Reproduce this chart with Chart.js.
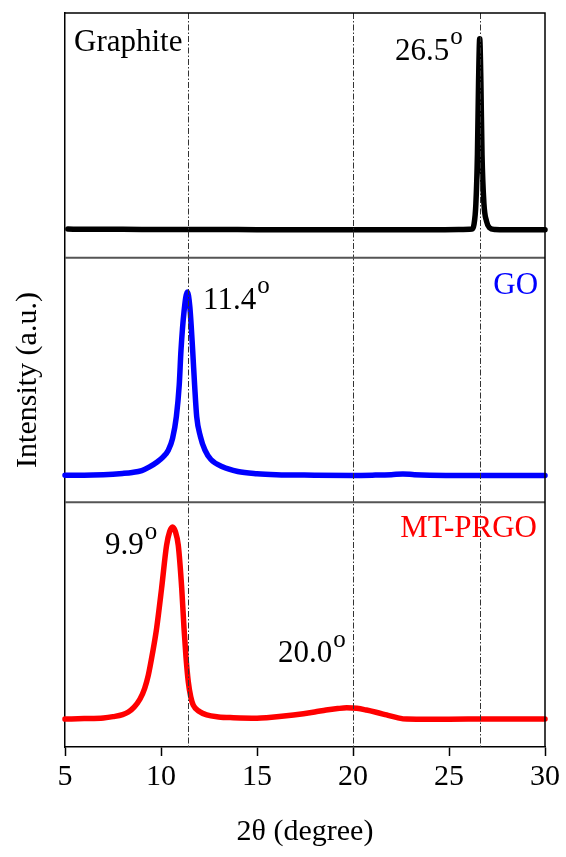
<!DOCTYPE html>
<html><head><meta charset="utf-8">
<script src="https://cdn.jsdelivr.net/npm/chart.js@4.4.1/dist/chart.umd.min.js"></script>
<style>html,body{margin:0;padding:0;background:#fff;}</style>
</head><body>
<canvas id="c" width="566" height="857"></canvas>
<script>
// ---- data ----
const xTicks = [5, 10, 15, 20, 25, 30];
const refLines = [11.4, 20.0, 26.6];

const graphiteX = [5.15, 6, 8, 10, 12, 14, 16, 18, 20, 22, 24, 25.5, 26.2, 26.3, 26.4, 26.48, 26.54, 26.6, 26.66, 26.72, 26.82, 26.95, 27.1, 27.4, 28, 30];
const graphiteY = [11.7, 11.6, 11.6, 11.5, 11.5, 11.5, 11.4, 11.4, 11.4, 11.4, 11.4, 11.5, 11.7, 13.5, 22, 42, 72, 89.5, 72, 42, 22, 15, 12.3, 11.5, 11.4, 11.4];

const goX = [5.0, 6, 7, 8, 8.5, 9, 9.4, 9.8, 10.1, 10.38, 10.6, 10.8, 10.95, 11.04, 11.2, 11.37, 11.5, 11.65, 11.75, 11.86, 12.05, 12.29, 12.6, 13.2, 14, 15, 16, 18, 20, 21, 22, 22.6, 23.2, 24, 26, 28, 30];
const goY = [11.1, 11.1, 11.3, 11.8, 12.2, 13.0, 14.5, 16.5, 18.5, 21.3, 26, 35, 48, 62, 78, 86, 80, 62, 48, 35, 27, 21.3, 17.5, 14.5, 12.6, 11.7, 11.3, 11.1, 11.0, 11.1, 11.3, 11.6, 11.3, 11.1, 11.0, 11.0, 11.0];

const prgoX = [5.0, 6, 7, 7.5, 8.0, 8.3, 8.6, 8.9, 9.15, 9.34, 9.55, 9.77, 10.03, 10.29, 10.45, 10.6, 10.75, 10.9, 11.08, 11.2, 11.3, 11.42, 11.55, 11.68, 12.0, 12.38, 13.0, 13.77, 15.0, 15.5, 16.9, 18.0, 18.6, 19.2, 19.67, 20.2, 20.7, 21.2, 21.75, 22.3, 22.8, 24, 26, 28, 30];
const prgoY = [11.4, 11.6, 11.9, 12.4, 13.2, 14.3, 16.3, 19.5, 24, 29.4, 38, 48.4, 64.8, 82.4, 88, 89.9, 88, 82.4, 64.8, 48.4, 37, 26.7, 20.5, 17.1, 14.5, 13.1, 12.3, 12.0, 11.8, 12.0, 13.1, 14.3, 15.1, 15.7, 16.0, 15.8, 15.1, 14.2, 13.1, 12.0, 11.4, 11.3, 11.4, 11.4, 11.4];

const seriesNames = ['Graphite', 'GO', 'MT-PRGO'];
const seriesColors = ['#000000', '#0000ff', '#ff0000'];

// text labels anchored in data coordinates of each panel
const labels = [
  {axis: 'yG',  text: 'Graphite', sup: '',  x: 5.47,  y: 84.5, align: 'left',  color: '#000'},
  {axis: 'yG',  text: '26.5',     sup: 'o', x: 22.19, y: 80.8, align: 'left',  color: '#000'},
  {axis: 'yGO', text: '11.4',     sup: 'o', x: 12.19, y: 79.1, align: 'left',  color: '#000'},
  {axis: 'yGO', text: 'GO',       sup: '',  x: 29.64, y: 85.2, align: 'right', color: '#0000ff'},
  {axis: 'yM',  text: '9.9',      sup: 'o', x: 7.08,  y: 78.8, align: 'left',  color: '#000'},
  {axis: 'yM',  text: '20.0',     sup: 'o', x: 16.09, y: 34.7, align: 'left',  color: '#000'},
  {axis: 'yM',  text: 'MT-PRGO',  sup: '',  x: 29.58, y: 85.7, align: 'right', color: '#ff0000'}
];

const FONT = '"Liberation Serif", "Times New Roman", serif';
const pts = (xs, ys) => xs.map((x, i) => ({x: x, y: ys[i]}));

const framePlugin = {
  id: 'frame',
  afterDatasetsDraw(chart) {
    const ctx = chart.ctx, a = chart.chartArea, sx = chart.scales.x;
    ctx.save();
    // reference dash-dot lines
    ctx.strokeStyle = '#333';
    ctx.lineWidth = 1;
    ctx.setLineDash([6, 2, 1.5, 2]);
    refLines.forEach(v => {
      const px = Math.round(sx.getPixelForValue(v)) + 0.5;
      ctx.beginPath(); ctx.moveTo(px, a.top); ctx.lineTo(px, a.bottom); ctx.stroke();
    });
    ctx.setLineDash([]);
    // panel separators (top edge of every panel below the first)
    ctx.strokeStyle = '#555';
    ctx.lineWidth = 2;
    ['yG', 'yGO', 'yM'].forEach(id => {
      const y = chart.scales[id].top;
      if (y > a.top + 2) { ctx.beginPath(); ctx.moveTo(a.left, y); ctx.lineTo(a.right, y); ctx.stroke(); }
    });
    // outer frame
    ctx.strokeStyle = '#000';
    ctx.lineWidth = 1.5;
    ctx.beginPath();
    ctx.moveTo(a.left, a.top); ctx.lineTo(a.right, a.top); ctx.lineTo(a.right, a.bottom);
    ctx.stroke();
    // labels
    labels.forEach(l => {
      const sy = chart.scales[l.axis];
      const px = sx.getPixelForValue(l.x), py = sy.getPixelForValue(l.y);
      ctx.fillStyle = l.color;
      ctx.font = '31px ' + FONT;
      ctx.textBaseline = 'alphabetic';
      ctx.textAlign = l.align;
      ctx.fillText(l.text, px, py);
      if (l.sup) {
        const w = ctx.measureText(l.text).width;
        ctx.font = '25px ' + FONT;
        ctx.textAlign = 'left';
        ctx.fillText(l.sup, px + w + 1, py - 15.5);
      }
    });
    ctx.restore();
  }
};

const yAxis = (extra) => Object.assign({
  type: 'linear', stack: 'panels', stackWeight: 1, min: 0, max: 100,
  ticks: {display: false}, grid: {display: false},
  border: {display: true, color: '#000', width: 1.5},
  afterFit(s) { s.width = 65; }
}, extra || {});

new Chart(document.getElementById('c'), {
  type: 'scatter',
  data: {
    datasets: [
      {label: seriesNames[0], data: pts(graphiteX, graphiteY), yAxisID: 'yG'},
      {label: seriesNames[1], data: pts(goX, goY), yAxisID: 'yGO'},
      {label: seriesNames[2], data: pts(prgoX, prgoY), yAxisID: 'yM'}
    ].map((d, i) => Object.assign(d, {
      xAxisID: 'x', showLine: true, borderColor: seriesColors[i], backgroundColor: seriesColors[i],
      borderWidth: 5.5, pointRadius: 0, cubicInterpolationMode: 'monotone',
      borderCapStyle: 'round', borderJoinStyle: 'round', clip: false
    }))
  },
  options: {
    responsive: false, animation: false, devicePixelRatio: 1,
    layout: {padding: {top: 13, right: 21, left: 0, bottom: 0}},
    plugins: {legend: {display: false}, tooltip: {enabled: false}},
    scales: {
      x: {
        type: 'linear', position: 'bottom', min: 5, max: 30,
        afterBuildTicks(s) { s.ticks = xTicks.map(v => ({value: v})); },
        ticks: {font: {family: FONT, size: 30}, color: '#000', padding: 3, maxRotation: 0},
        grid: {drawOnChartArea: false, drawTicks: true, tickLength: 9, tickColor: '#000', tickWidth: 1.5},
        border: {display: true, color: '#000', width: 1.5},
        title: {display: true, text: '2θ (degree)', font: {family: FONT, size: 30}, color: '#000', padding: {top: 0, bottom: 7}},
        afterFit(s) { s.height = 110; }
      },
      // stacked panels: the first listed axis sits at the bottom
      yM: yAxis({position: 'left'}),
      yGO: yAxis({position: 'left', title: {display: true, text: 'Intensity (a.u.)', font: {family: FONT, size: 30}, color: '#000', padding: {top: 10, bottom: 0}}}),
      yG: yAxis({position: 'left'})
    }
  },
  plugins: [framePlugin]
});
</script>
</body></html>
